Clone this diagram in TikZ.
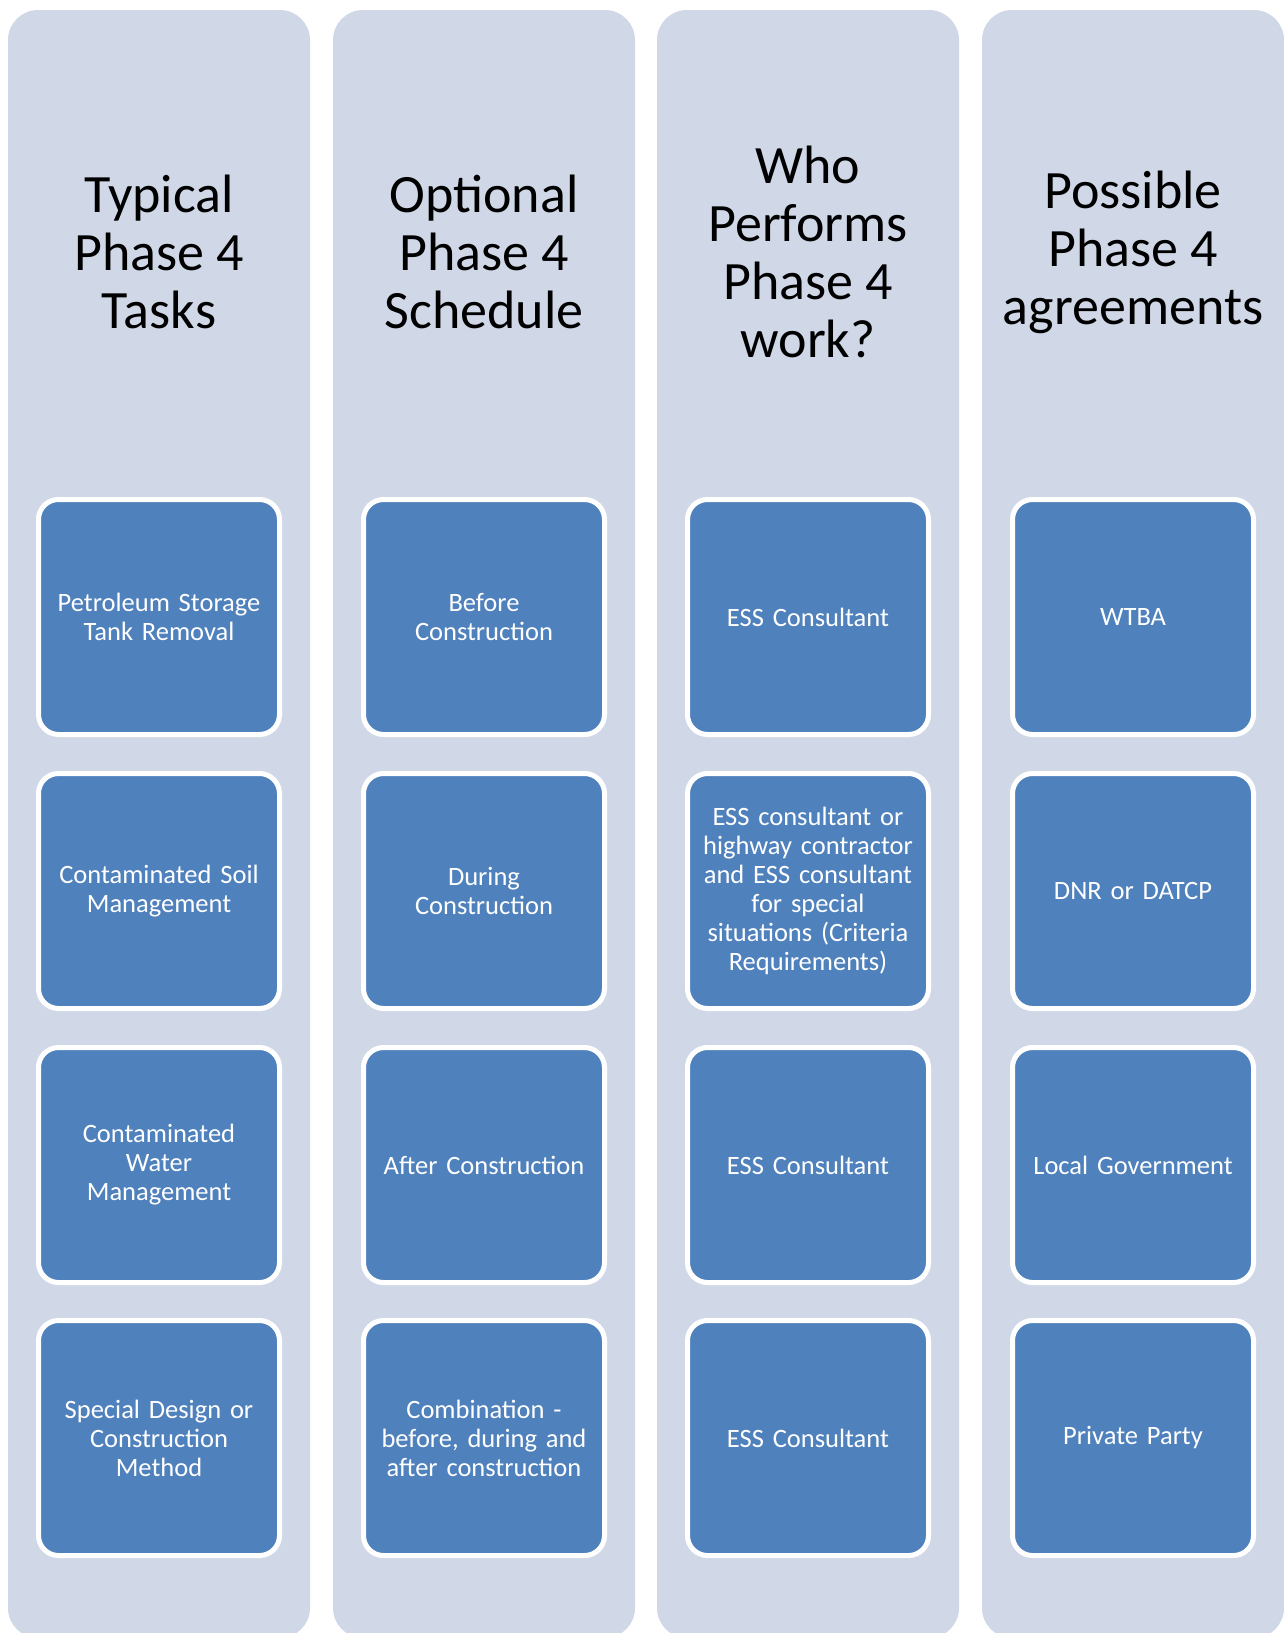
\documentclass[tikz,border=0pt]{standalone}
\usepackage{fontspec}
\setmainfont{Carlito}
\definecolor{colbg}{HTML}{D0D8E8}
\definecolor{boxbl}{HTML}{4F81BD}
\begin{document}
\begin{tikzpicture}[x=1pt,y=-1pt,
  colbox/.style={fill=colbg, draw=none, rounded corners=30pt},
  head/.style={align=center, font=\fontsize{54}{58}\selectfont, text=black, inner sep=0pt},
  item/.style={draw=white, line width=5pt, fill=boxbl, rounded corners=20pt,
    minimum width=241pt, minimum height=235pt, text width=232pt, align=center,
    font=\fontsize{26.5}{29}\selectfont, text=white, inner sep=0pt}]
\useasboundingbox[fill=white] (0,0) rectangle (1283,1633);
% columns
\foreach \x [count=\i] in {8,333,657,982}{
  \fill[colbg, rounded corners=30pt] (\x,10) rectangle ++(302,1628);
}
% headers
\node[head] (h1) at (159,252) {Typical\\Phase 4\\Tasks};
\node[head] (h2) at (484,252) {Optional\\Phase 4\\Schedule};
\node[head] (h3) at (808,252) {Who\\Performs\\Phase 4\\work?};
\node[head] (h4) at (1133,252) {Possible\\Phase 4\\agreements};
% column 1
\node[item] (a1) at (159,617) {Petroleum Storage\\Tank Removal};
\node[item] (a2) at (159,891) {Contaminated Soil\\Management};
\node[item] (a3) at (159,1165) {Contaminated\\Water\\Management};
\node[item] (a4) at (159,1438) {Special Design or\\Construction\\Method};
% column 2
\node[item] (b1) at (484,617) {Before\\Construction};
\node[item] (b2) at (484,891) {During\\Construction};
\node[item] (b3) at (484,1165) {After Construction};
\node[item] (b4) at (484,1438) {Combination -\\before, during and\\after construction};
% column 3
\node[item] (c1) at (808,617) {ESS Consultant};
\node[item] (c2) at (808,891) {ESS consultant or\\highway contractor\\and ESS consultant\\for special\\situations (Criteria\\Requirements)};
\node[item] (c3) at (808,1165) {ESS Consultant};
\node[item] (c4) at (808,1438) {ESS Consultant};
% column 4
\node[item] (d1) at (1133,617) {WTBA};
\node[item] (d2) at (1133,891) {DNR or DATCP};
\node[item] (d3) at (1133,1165) {Local Government};
\node[item] (d4) at (1133,1438) {Private Party};
\end{tikzpicture}
\end{document}
